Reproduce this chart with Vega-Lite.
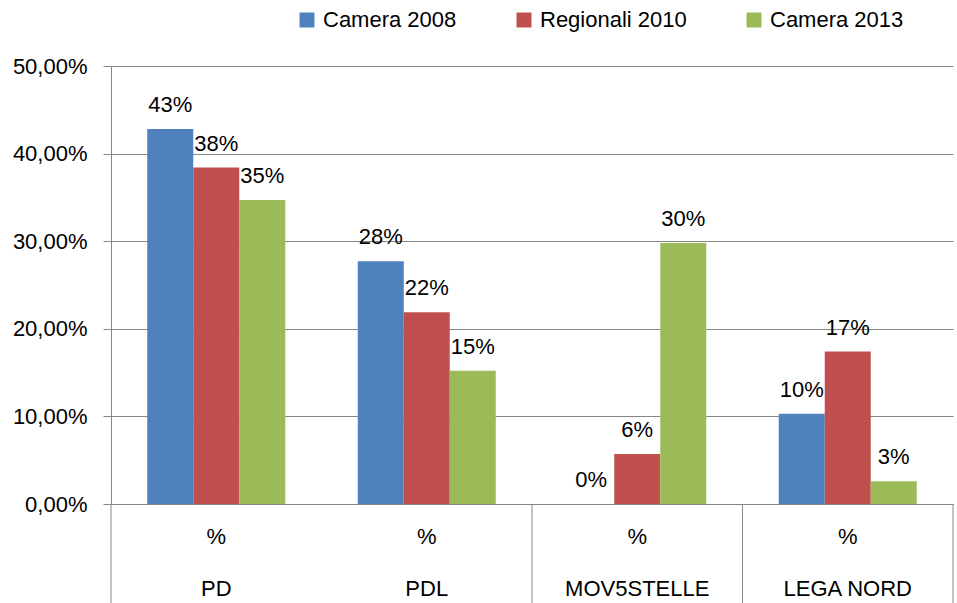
{
  "$schema": "https://vega.github.io/schema/vega-lite/v6.json",
  "width": 842,
  "height": 438,
  "autosize": {"type": "none"},
  "padding": {"left": 111, "top": 66, "right": 4, "bottom": 99},
  "background": "white",
  "config": {"font": "Liberation Sans", "view": {"stroke": null}},
  "datasets": {
    "votes": [
      {"party": "PD", "election": "Camera 2008", "value": 0.428},
      {"party": "PD", "election": "Regionali 2010", "value": 0.384},
      {"party": "PD", "election": "Camera 2013", "value": 0.347},
      {"party": "PDL", "election": "Camera 2008", "value": 0.277},
      {"party": "PDL", "election": "Regionali 2010", "value": 0.219},
      {"party": "PDL", "election": "Camera 2013", "value": 0.152},
      {"party": "MOV5STELLE", "election": "Camera 2008", "value": 0.0},
      {"party": "MOV5STELLE", "election": "Regionali 2010", "value": 0.057},
      {"party": "MOV5STELLE", "election": "Camera 2013", "value": 0.298},
      {"party": "LEGA NORD", "election": "Camera 2008", "value": 0.103},
      {"party": "LEGA NORD", "election": "Regionali 2010", "value": 0.174},
      {"party": "LEGA NORD", "election": "Camera 2013", "value": 0.026}
    ],
    "dividers": [
      {"party": "PD"},
      {"party": "MOV5STELLE"},
      {"party": "LEGA NORD"}
    ],
    "lastEdge": [
      {"party": "LEGA NORD"}
    ]
  },
  "layer": [
    {
      "data": {"name": "votes"},
      "mark": {"type": "bar"},
      "encoding": {
        "x": {
          "field": "party",
          "type": "nominal",
          "sort": ["PD", "PDL", "MOV5STELLE", "LEGA NORD"],
          "scale": {"domain": ["PD", "PDL", "MOV5STELLE", "LEGA NORD"], "paddingInner": 0, "paddingOuter": 0},
          "axis": {
            "title": null,
            "labelAngle": 0,
            "ticks": false,
            "domainColor": "#868686",
            "labelExpr": "['%', datum.label]",
            "labelFontSize": 22,
            "labelLineHeight": 52,
            "labelPadding": 22,
            "labelBaseline": "top",
            "labelColor": "#000000"
          }
        },
        "xOffset": {
          "field": "election",
          "type": "nominal",
          "sort": ["Camera 2008", "Regionali 2010", "Camera 2013"],
          "scale": {"paddingInner": 0, "paddingOuter": 0.788}
        },
        "y": {
          "field": "value",
          "type": "quantitative",
          "scale": {"domain": [0, 0.5], "nice": false},
          "axis": {
            "title": null,
            "values": [0, 0.1, 0.2, 0.3, 0.4, 0.5],
            "labelExpr": "replace(format(datum.value, '.2%'), '.', ',')",
            "grid": true,
            "gridColor": "#868686",
            "domainColor": "#868686",
            "tickColor": "#868686",
            "tickSize": 8,
            "labelPadding": 16,
            "labelFontSize": 22,
            "labelColor": "#000000"
          }
        },
        "color": {
          "field": "election",
          "type": "nominal",
          "scale": {
            "domain": ["Camera 2008", "Regionali 2010", "Camera 2013"],
            "range": ["#4F81BD", "#C0504D", "#9BBB59"]
          },
          "legend": {
            "title": null,
            "orient": "none",
            "direction": "horizontal",
            "legendX": 185,
            "legendY": -57,
            "symbolType": "square",
            "symbolSize": 225,
            "symbolStrokeWidth": 0,
            "symbolOpacity": 1,
            "labelFontSize": 22,
            "labelColor": "#000000",
            "labelOffset": 5,
            "columnPadding": 56
          }
        }
      }
    },
    {
      "data": {"name": "votes"},
      "mark": {"type": "text", "dy": -17, "baseline": "alphabetic", "fontSize": 22, "color": "#000000"},
      "encoding": {
        "x": {"field": "party", "type": "nominal", "sort": ["PD", "PDL", "MOV5STELLE", "LEGA NORD"]},
        "xOffset": {"field": "election", "type": "nominal", "sort": ["Camera 2008", "Regionali 2010", "Camera 2013"]},
        "y": {"field": "value", "type": "quantitative"},
        "text": {"field": "value", "type": "quantitative", "format": ".0%"}
      }
    },
    {
      "data": {"name": "dividers"},
      "mark": {"type": "rule", "color": "#868686", "strokeWidth": 1},
      "encoding": {
        "x": {"field": "party", "type": "nominal", "bandPosition": 0},
        "y": {"datum": 0},
        "y2": {"datum": -0.113}
      }
    },
    {
      "data": {"name": "lastEdge"},
      "mark": {"type": "rule", "color": "#868686", "strokeWidth": 1},
      "encoding": {
        "x": {"field": "party", "type": "nominal", "bandPosition": 1},
        "y": {"datum": 0},
        "y2": {"datum": -0.113}
      }
    }
  ]
}
